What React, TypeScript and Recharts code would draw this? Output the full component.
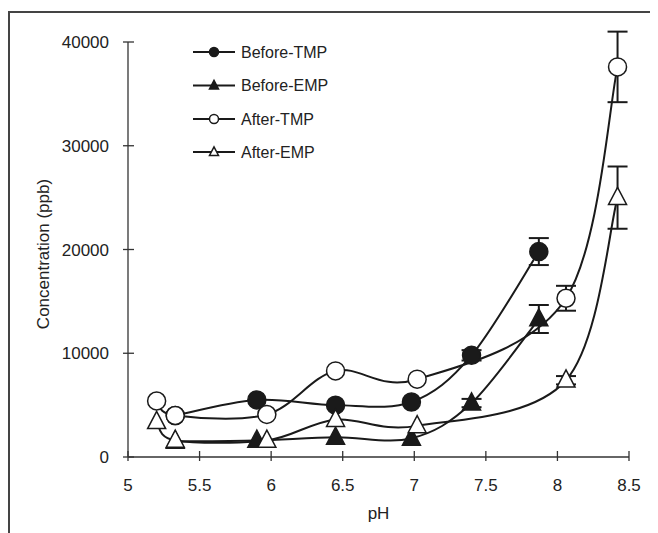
import React from "react";
import { LineChart, Line, XAxis, YAxis, ErrorBar } from "recharts";

const xTicks = [5, 5.5, 6, 6.5, 7, 7.5, 8, 8.5];
const yTicks = [0, 10000, 20000, 30000, 40000];

const phBeforeTMP = [5.33, 5.9, 6.45, 6.98, 7.4, 7.87];
const beforeTMP = [4000, 5500, 5000, 5300, 9800, 19800];
const beforeTMPErr = [null, null, null, null, 500, 1300];

const phBeforeEMP = [5.33, 5.9, 6.45, 6.98, 7.4, 7.87];
const beforeEMP = [1500, 1600, 1900, 1800, 5200, 13300];
const beforeEMPErr = [null, null, null, null, 400, 1350];

const phAfterTMP = [5.2, 5.33, 5.97, 6.45, 7.02, 8.06, 8.42];
const afterTMP = [5400, 4000, 4100, 8300, 7500, 15300, 37600];
const afterTMPErr = [null, null, null, null, null, 1200, 3400];

const phAfterEMP = [5.2, 5.33, 5.97, 6.45, 7.02, 8.06, 8.42];
const afterEMP = [3400, 1600, 1600, 3600, 3000, 7400, 25000];
const afterEMPErr = [null, null, null, null, null, 400, 3000];

const legendNames = ["Before-TMP", "Before-EMP", "After-TMP", "After-EMP"];

type Shape = "circle" | "triangle";

const rows = (ph: number[], v: number[], e: (number | null)[]) =>
  ph.map((p, i) => ({ ph: p, value: v[i], err: e[i] }));

const series = [
  { name: legendNames[0], data: rows(phBeforeTMP, beforeTMP, beforeTMPErr), shape: "circle" as Shape, filled: true },
  { name: legendNames[1], data: rows(phBeforeEMP, beforeEMP, beforeEMPErr), shape: "triangle" as Shape, filled: true },
  { name: legendNames[2], data: rows(phAfterTMP, afterTMP, afterTMPErr), shape: "circle" as Shape, filled: false },
  { name: legendNames[3], data: rows(phAfterEMP, afterEMP, afterEMPErr), shape: "triangle" as Shape, filled: false },
];

const INK = "#1a1a1a";
const FONT = "'Liberation Sans', Arial, sans-serif";

// Excel-like smoothed line (uniform Catmull-Rom through the points)
function smoothCurve(context: any) {
  let pts: [number, number][] = [];
  return {
    areaStart() {},
    areaEnd() {},
    lineStart() {
      pts = [];
    },
    point(x: number, y: number) {
      pts.push([+x, +y]);
    },
    lineEnd() {
      if (!pts.length) return;
      context.moveTo(pts[0][0], pts[0][1]);
      for (let i = 0; i < pts.length - 1; i++) {
        const p0 = pts[i - 1] || pts[i];
        const p1 = pts[i];
        const p2 = pts[i + 1];
        const p3 = pts[i + 2] || p2;
        context.bezierCurveTo(
          p1[0] + (p2[0] - p0[0]) / 6,
          p1[1] + (p2[1] - p0[1]) / 6,
          p2[0] - (p3[0] - p1[0]) / 6,
          p2[1] - (p3[1] - p1[1]) / 6,
          p2[0],
          p2[1]
        );
      }
    },
  };
}

function Marker({ cx, cy, shape, filled, size }: { cx: number; cy: number; shape: Shape; filled: boolean; size: number }) {
  const fill = filled ? INK : "#fff";
  if (shape === "circle") {
    return <circle cx={cx} cy={cy} r={size / 2} fill={fill} stroke={INK} strokeWidth={1.5} />;
  }
  const h = size * 0.95;
  const w = size;
  const d = `M${cx},${cy - h * 0.6} L${cx + w / 2},${cy + h * 0.4} L${cx - w / 2},${cy + h * 0.4} Z`;
  return <path d={d} fill={fill} stroke={INK} strokeWidth={1.5} strokeLinejoin="miter" />;
}

const XTick = ({ x, y, payload }: any) => (
  <g>
    <line x1={x} x2={x} y1={y - 6} y2={y + 4} stroke="#333" strokeWidth={1.3} />
    <text x={x} y={y + 34} textAnchor="middle" fontSize={17} fontFamily={FONT} fill="#222">
      {payload.value}
    </text>
  </g>
);

const YTick = ({ x, y, payload }: any) => (
  <g>
    <line x1={x - 5} x2={x + 6} y1={y} y2={y} stroke="#333" strokeWidth={1.3} />
    <text x={x - 19} y={y + 6} textAnchor="end" fontSize={17} fontFamily={FONT} fill="#222">
      {payload.value}
    </text>
  </g>
);

const legendRowsY = [44, 77.5, 111, 144];

export default function App() {
  return (
    <div style={{ position: "relative", width: 650, height: 525 }}>
      <style>{"body{margin:8px;overflow:hidden}"}</style>
      <div
        style={{
          position: "absolute",
          left: 0,
          top: 3,
          right: 0,
          bottom: 0,
          borderLeft: "2px solid #444",
          borderTop: "2px solid #444",
        }}
      />
      <LineChart width={650} height={525} margin={{ top: 34, right: 29, bottom: 36, left: 60 }}>
        <XAxis
          dataKey="ph"
          type="number"
          domain={[5, 8.5]}
          ticks={xTicks}
          allowDataOverflow
          height={40}
          stroke="#333"
          strokeWidth={1.3}
          tickLine={false}
          tickSize={0}
          tickMargin={0}
          tick={<XTick />}
          label={{ value: "pH", position: "bottom", offset: 10, fontSize: 17, fontFamily: FONT, fill: "#222" }}
        />
        <YAxis
          type="number"
          domain={[0, 40000]}
          ticks={yTicks}
          allowDataOverflow
          width={60}
          stroke="#333"
          strokeWidth={1.3}
          tickLine={false}
          tickSize={0}
          tickMargin={0}
          tick={<YTick />}
        />
        {/* error bars first, so the markers sit on top of them */}
        {series.map((s) => (
          <Line
            key={`${s.name}-err`}
            data={s.data}
            dataKey="value"
            stroke="none"
            dot={false}
            activeDot={false}
            legendType="none"
            isAnimationActive={false}
          >
            <ErrorBar dataKey="err" direction="y" width={10} stroke={INK} strokeWidth={2} />
          </Line>
        ))}
        {series.map((s) => (
          <Line
            key={s.name}
            name={s.name}
            data={s.data}
            dataKey="value"
            type={smoothCurve as any}
            stroke={INK}
            strokeWidth={2}
            isAnimationActive={false}
            dot={(p: any) => (
              <Marker key={`${s.name}-${p.index}`} cx={p.cx} cy={p.cy} shape={s.shape} filled={s.filled} size={18} />
            )}
            activeDot={false}
          />
        ))}
      </LineChart>
      <div
        style={{
          position: "absolute",
          left: 36,
          top: 246,
          transform: "translate(-50%, -50%) rotate(-90deg)",
          whiteSpace: "nowrap",
          fontFamily: FONT,
          fontSize: 17,
          color: "#222",
        }}
      >
        Concentration (ppb)
      </div>
      <svg width={650} height={525} style={{ position: "absolute", left: 0, top: 0, pointerEvents: "none" }}>
        {series.map((s, i) => (
          <g key={s.name}>
            <line x1={185} x2={227} y1={legendRowsY[i]} y2={legendRowsY[i]} stroke={INK} strokeWidth={2} />
            <Marker cx={206} cy={legendRowsY[i]} shape={s.shape} filled={s.filled} size={9} />
            <text x={233} y={legendRowsY[i] + 5.5} fontSize={16} fontFamily={FONT} fill="#222">
              {s.name}
            </text>
          </g>
        ))}
      </svg>
    </div>
  );
}
